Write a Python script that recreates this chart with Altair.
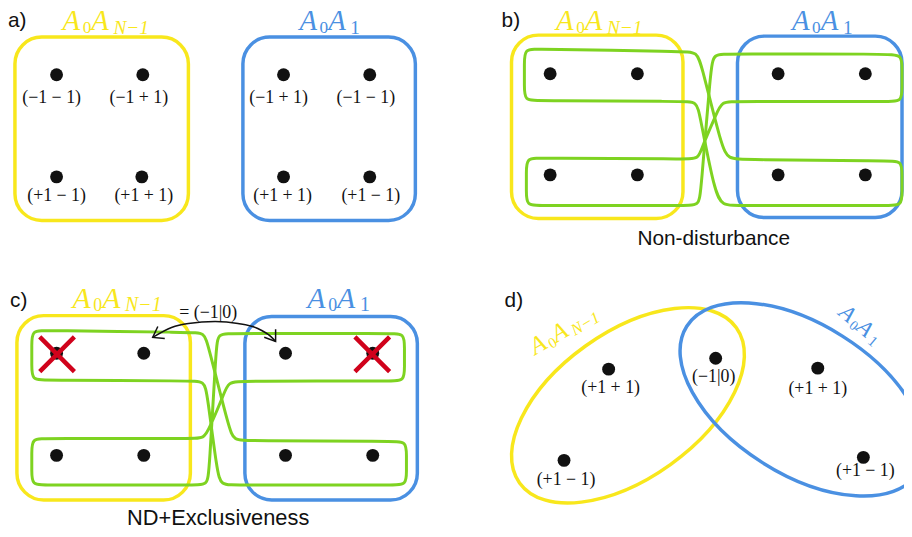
import altair as alt
import pandas as pd

YELLOW = "#F8E71C"
BLUE = "#4A90E2"
GREEN = "#7ED321"
RED = "#D0021B"
INK = "#111111"

# ---------------- data (image pixel coordinates) ----------------
panel_tag = ["a)", "b)", "c)", "d)"]
panel_tag_x = [8, 506, 10, 509]
panel_tag_y = [25, 25, 307, 307]

caption_text = ["Non-disturbance", "ND+Exclusiveness"]
caption_x = [720, 220]
caption_y = [245, 527]
caption_size = [21, 22]

box_color = [YELLOW, BLUE, YELLOW, BLUE, YELLOW, BLUE]
box_x1 = [15, 245, 516, 744, 17, 247]
box_x2 = [190, 419, 689, 910, 192, 421]
box_y1 = [35, 35, 33, 34, 316, 317]
box_y2 = [220, 220, 218, 217, 502, 502]

dot_x = [57, 144, 57, 143, 286, 373, 286, 373,
         555, 643, 555, 643, 785, 873, 785, 873,
         57, 145, 57, 145, 288, 376, 288, 376,
         614, 722, 825, 569, 871]
dot_y = [73, 73, 176, 176, 73, 73, 176, 176,
         72, 72, 174, 174, 72, 72, 174, 174,
         354, 354, 457, 457, 354, 354, 457, 457,
         370, 359, 369, 462, 459]

lab_text = ["(−1 − 1)", "(−1 + 1)", "(−1 + 1)", "(−1 − 1)",
            "(+1 − 1)", "(+1 + 1)", "(+1 + 1)", "(+1 − 1)",
            "(+1 + 1)", "(−1|0)", "(+1 + 1)", "(+1 − 1)", "(+1 − 1)",
            "= (−1|0)"]
lab_x = [52, 140, 281, 369, 57, 145, 285, 374,
         616, 720, 825, 571, 873, 210]
lab_y = [101.5, 101.5, 101.5, 101.5, 200, 200, 200, 200,
         394, 383, 395, 487, 478, 318]

cross_x = [57.5, 375.5]
cross_y = [355, 355]

ell_color = [YELLOW, BLUE]
ell_cx = [633.5, 809.5]
ell_cy = [406.5, 400.5]
ell_semi_major = [134.5, 138]
ell_angle = [324.4, 32.3]

# set names: anchor (left of baseline), angle, colour, subscript, font size
set_x = [63, 302, 561, 799, 73, 310, 540, 845]
set_y = [28, 28, 28, 28, 308, 308, 356, 315]
set_angle = [0, 0, 0, 0, 0, 0, 330, 40]
set_color = [YELLOW, BLUE, YELLOW, BLUE, YELLOW, BLUE, YELLOW, BLUE]
set_sub = ["N−1", "1", "N−1", "1", "N−1", "1", "N−1", "1"]
set_size = [29, 29, 29, 29, 30, 30, 25, 23]

# green loops (B-spline control points)
loop_bA_x = [529, 543, 690, 703, 708, 728, 735, 750, 896, 910, 910, 910, 910, 896, 744, 729, 721, 706, 703, 689, 543, 529, 529, 529]
loop_bA_y = [47, 47, 49.5, 50, 64, 146, 158, 158.5, 160, 160, 174, 191, 205, 205, 205, 205, 192, 114, 100, 100, 99, 99, 85, 61]
loop_bB_x = [720, 734, 896, 910, 910, 910, 910, 896, 742, 728, 723, 708, 705, 691, 545, 531, 531, 531, 531, 545, 691, 705, 707, 717]
loop_bB_y = [52, 52, 52, 53, 67, 86, 100, 100, 100, 100, 112, 146, 158, 158, 157, 157, 171, 191, 205, 205, 205, 205, 192, 66]
loop_cA_x = [32, 46, 193, 206, 210, 231, 236, 250, 396, 410, 410, 410, 410, 396, 237, 223, 219, 209, 206, 192, 46, 32, 32, 32]
loop_cA_y = [331, 331, 333, 333, 346, 430, 442, 442, 443, 443, 457, 473, 487, 487, 487, 487, 474, 395, 382, 382, 381, 381, 367, 345]
loop_cB_x = [220, 234, 394, 408, 408, 408, 408, 394, 244, 230, 226, 211, 206, 192, 46, 32, 32, 32, 32, 46, 196, 209, 211, 218]
loop_cB_y = [334, 334, 334, 334, 348, 368, 382, 382, 382, 383, 395, 430, 440, 440, 440, 440, 454, 473, 487, 487, 487, 487, 474, 347]

arrow_x = [154, 173, 190, 217, 240, 260, 273, 278]
arrow_y = [338, 328, 324, 322, 324, 329, 337, 342]
head_x = [154, 278]
head_y = [338, 342]
head_angle = [150, 55]

# ---------------- scales / helpers ----------------
XS = alt.Scale(domain=[8, 912], nice=False, zero=False)
YS = alt.Scale(domain=[8, 537], nice=False, zero=False, reverse=True)


def X(f="x"):
    return alt.X(f"{f}:Q", scale=XS, axis=None)


def Y(f="y"):
    return alt.Y(f"{f}:Q", scale=YS, axis=None)


K = 0.5523
B = 0.547
BK = round(B * K, 3)
ELLIPSE = (f"M1,0 C1,{BK} {K},{B} 0,{B} C{-K},{B} -1,{BK} -1,0 "
           f"C-1,{-BK} {-K},{-B} 0,{-B} C{K},{-B} 1,{-BK} 1,0 Z")
XMARK = "M-1,-1L1,1M-1,1L1,-1"
CHEVRON = "M-1,-0.7L0,0L-1,0.7"

layers = []

# rounded boxes
box_df = pd.DataFrame({"x1": box_x1, "x2": box_x2, "y1": box_y1, "y2": box_y2, "col": box_color})
layers.append(
    alt.Chart(box_df).mark_rect(filled=False, strokeWidth=3.5, cornerRadius=27).encode(
        x=X("x1"), x2="x2:Q", y=Y("y1"), y2="y2:Q", color=alt.Color("col:N", scale=None)
    )
)

# ellipses (panel d)
ell_df = pd.DataFrame({
    "x": ell_cx, "y": ell_cy, "col": ell_color, "angle": ell_angle,
    "size": [(2 * a) ** 2 for a in ell_semi_major],
})
layers.append(
    alt.Chart(ell_df).mark_point(shape=ELLIPSE, filled=False, strokeWidth=3.5, opacity=1).encode(
        x=X(), y=Y(), color=alt.Color("col:N", scale=None),
        size=alt.Size("size:Q", scale=None), angle=alt.Angle("angle:Q", scale=None)
    )
)

# green loops
rows = []
for name, xs, ys in [("bA", loop_bA_x, loop_bA_y), ("bB", loop_bB_x, loop_bB_y),
                     ("cA", loop_cA_x, loop_cA_y), ("cB", loop_cB_x, loop_cB_y)]:
    for i, (xv, yv) in enumerate(zip(xs, ys)):
        rows.append({"loop": name, "i": i, "x": xv, "y": yv})
loop_df = pd.DataFrame(rows)
layers.append(
    alt.Chart(loop_df).mark_line(interpolate="basis-closed", color=GREEN, strokeWidth=3).encode(
        x=X(), y=Y(), order="i:Q", detail="loop:N"
    )
)

# dots
dot_df = pd.DataFrame({"x": dot_x, "y": dot_y})
layers.append(
    alt.Chart(dot_df).mark_point(shape="circle", filled=True, size=169, color=INK, opacity=1).encode(
        x=X(), y=Y()
    )
)

# red crosses
cross_df = pd.DataFrame({"x": cross_x, "y": cross_y})
layers.append(
    alt.Chart(cross_df).mark_point(shape=XMARK, filled=False, size=1225, strokeWidth=4.5,
                                   color=RED, opacity=1).encode(x=X(), y=Y())
)

# arrow
arrow_df = pd.DataFrame({"x": arrow_x, "y": arrow_y})
layers.append(
    alt.Chart(arrow_df).mark_line(interpolate="monotone", color=INK, strokeWidth=1.5).encode(
        x=X(), y=Y()
    )
)
head_df = pd.DataFrame({"x": head_x, "y": head_y, "angle": head_angle})
layers.append(
    alt.Chart(head_df).mark_point(shape=CHEVRON, filled=False, size=400, strokeWidth=1.5,
                                  color=INK, opacity=1).encode(
        x=X(), y=Y(), angle=alt.Angle("angle:Q", scale=None)
    )
)

# point labels
lab_df = pd.DataFrame({"x": lab_x, "y": lab_y, "t": lab_text})
layers.append(
    alt.Chart(lab_df).mark_text(font="Liberation Serif", fontSize=18, color=INK,
                                align="center", baseline="alphabetic").encode(
        x=X(), y=Y(), text="t:N"
    )
)

# panel tags
tag_df = pd.DataFrame({"x": panel_tag_x, "y": panel_tag_y, "t": panel_tag})
layers.append(
    alt.Chart(tag_df).mark_text(font="Liberation Sans", fontSize=21, color=INK,
                                align="left", baseline="alphabetic").encode(
        x=X(), y=Y(), text="t:N"
    )
)

# captions
for t, cx, cy, cs in zip(caption_text, caption_x, caption_y, caption_size):
    cdf = pd.DataFrame({"x": [cx], "y": [cy], "t": [t]})
    layers.append(
        alt.Chart(cdf).mark_text(font="Liberation Sans", fontSize=cs, color=INK,
                                 align="center", baseline="alphabetic").encode(
            x=X(), y=Y(), text="t:N"
        )
    )

# set names  A_0 A_{...}
for sx, sy, ang, col, sub, F in zip(set_x, set_y, set_angle, set_color, set_sub, set_size):
    sdf = pd.DataFrame({"x": [sx], "y": [sy]})
    pieces = [
        ("A", F, 0.0, 0.0, "italic"),
        ("0", 0.6 * F, 0.7 * F, 0.11 * F, "normal"),
        ("A", F, 1.0 * F, 0.0, "italic"),
        (sub, 0.67 * F, 1.77 * F, 0.12 * F, "italic" if sub != "1" else "normal"),
    ]
    for txt, fs, dx, dy, style in pieces:
        layers.append(
            alt.Chart(sdf).mark_text(font="Liberation Serif", fontSize=fs, fontStyle=style,
                                     color=col, align="left", baseline="alphabetic",
                                     dx=dx, dy=dy, angle=ang).encode(
                x=X(), y=Y(), text=alt.value(txt)
            )
        )

chart = alt.layer(*layers).properties(
    width=904, height=529, padding=0,
    autosize=alt.AutoSizeParams(type="none"),
    background="white",
).configure_view(stroke=None)

chart.save("out.html", embed_options={"renderer": "svg", "actions": False})
